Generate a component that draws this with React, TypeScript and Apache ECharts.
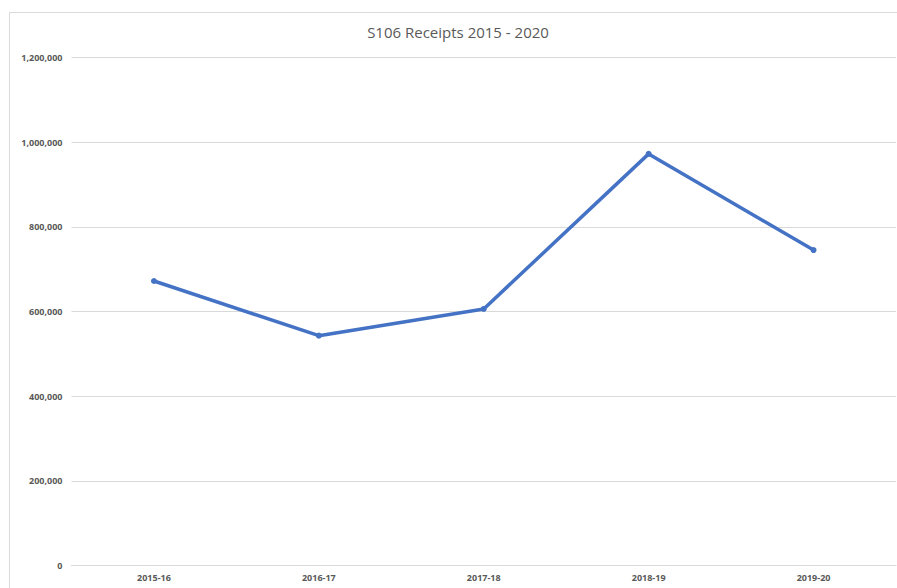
import React, { useEffect, useRef } from "react";
import * as echarts from "echarts";

const categories = ["2015-16", "2016-17", "2017-18", "2018-19", "2019-20"];
const receipts = [672000, 543000, 606000, 972000, 745000];
const titleText = "S106 Receipts 2015 - 2020";

export default function App() {
  const ref = useRef<HTMLDivElement>(null);
  useEffect(() => {
    if (!ref.current) return;
    const chart = echarts.init(ref.current, undefined, { renderer: "svg" });
    chart.setOption({
      animation: false,
      backgroundColor: "#ffffff",
      title: {
        text: titleText,
        left: 453,
        top: 19,
        textAlign: "center",
        textStyle: {
          fontFamily: "Open Sans",
          fontSize: 15,
          fontWeight: "normal",
          color: "#595959",
        },
      },
      graphic: [
        {
          type: "rect",
          shape: { x: 9.5, y: 12.5, width: 920, height: 600 },
          style: { fill: "none", stroke: "#d9d9d9", lineWidth: 1 },
          silent: true,
          z: -1,
        },
      ],
      grid: { left: 71.5, right: 1, top: 57.3, bottom: 22.3, containLabel: false },
      xAxis: {
        type: "category",
        data: categories,
        boundaryGap: true,
        axisLine: { show: true, lineStyle: { color: "#d9d9d9", width: 1 } },
        axisTick: { show: false },
        axisLabel: {
          margin: 7,
          fontFamily: "Open Sans",
          fontSize: 9,
          fontWeight: "bold",
          color: "#595959",
        },
      },
      yAxis: {
        type: "value",
        min: 0,
        max: 1200000,
        interval: 200000,
        axisLine: { show: false },
        axisTick: { show: false },
        splitLine: { lineStyle: { color: "#d9d9d9", width: 1 } },
        axisLabel: {
          margin: 9,
          fontFamily: "Open Sans",
          fontSize: 9,
          fontWeight: "bold",
          color: "#595959",
          formatter: (v: number) => v.toLocaleString("en-US"),
        },
      },
      series: [
        {
          type: "line",
          data: receipts,
          symbol: "circle",
          symbolSize: 6,
          lineStyle: { color: "#4472C4", width: 3.5 },
          itemStyle: { color: "#4472C4" },
        },
      ],
    });
    return () => chart.dispose();
  }, []);
  return (
    <div
      ref={ref}
      style={{ position: "absolute", left: 0, top: 0, width: 897, height: 588 }}
    />
  );
}
